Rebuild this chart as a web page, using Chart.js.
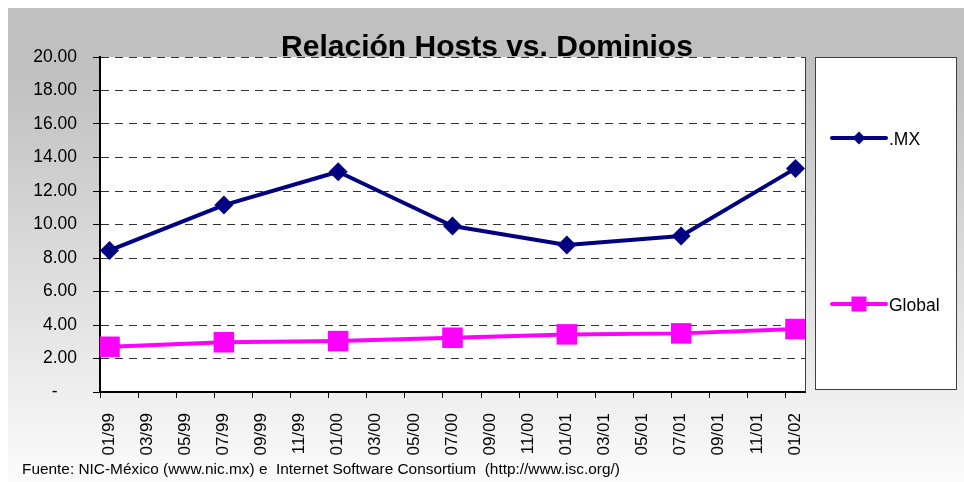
<!DOCTYPE html>
<html><head><meta charset="utf-8">
<script src="https://cdn.jsdelivr.net/npm/chart.js@4.4.0/dist/chart.umd.min.js"></script>
<style>html,body{margin:0;padding:0;background:#fff}#wrap{width:964px;height:482px}</style>
</head><body><div id="wrap"><canvas id="c" width="964" height="482"></canvas></div>
<script>
const chartTitle = 'Relación Hosts vs. Dominios';
const sourceNote = 'Fuente: NIC-México (www.nic.mx) e  Internet Software Consortium  (http://www.isc.org/)';
const dates = ['01/99', '07/99', '01/00', '07/00', '01/01', '07/01', '01/02'];
const mxValues = [8.45, 11.16, 13.15, 9.91, 8.78, 9.31, 13.35];
const globalValues = [2.70, 2.97, 3.04, 3.24, 3.44, 3.50, 3.76];
const tickLabels = ['01/99','03/99','05/99','07/99','09/99','11/99','01/00','03/00','05/00','07/00','09/00','11/00','01/01','03/01','05/01','07/01','09/01','11/01','01/02'];
const seriesNames = ['.MX', 'Global'];

const FONT = '"Liberation Sans", Arial, sans-serif';
function monthIndex(s) {
  const [m, y] = s.split('/').map(Number);
  const yy = y < 50 ? 100 + y : y;
  return (yy - 99) * 12 + (m - 1);
}
const firstM = monthIndex(tickLabels[0]);
const lastM = monthIndex(tickLabels[tickLabels.length - 1]);

const deco = {
  id: 'deco',
  beforeDraw(chart) {
    const { ctx, chartArea: a } = chart;
    ctx.save();
    const g = ctx.createLinearGradient(0, 8, 0, 482);
    g.addColorStop(0, '#c0c0c0');
    g.addColorStop(0.14, '#c0c0c0');
    g.addColorStop(1, '#fbfbfb');
    ctx.fillStyle = g;
    ctx.fillRect(8, 8, 956, 474);
    ctx.fillStyle = '#ffffff';
    ctx.fillRect(a.left, a.top, a.right - a.left, a.bottom - a.top);
    ctx.restore();
  },
  beforeDatasetsDraw(chart) {
    const { ctx, chartArea: a } = chart;
    ctx.save();
    ctx.strokeStyle = '#404040';
    ctx.lineWidth = 1;
    ctx.beginPath();
    ctx.moveTo(Math.round(a.right) + 0.5, a.top);
    ctx.lineTo(Math.round(a.right) + 0.5, a.bottom);
    ctx.stroke();
    ctx.restore();
  },
  afterDraw(chart) {
    const { ctx } = chart;
    ctx.save();
    // title
    ctx.fillStyle = '#000';
    ctx.font = 'bold 30px ' + FONT;
    ctx.textAlign = 'center';
    ctx.textBaseline = 'alphabetic';
    ctx.fillText(chartTitle, 487, 56);
    // source note
    ctx.font = '15.4px ' + FONT;
    ctx.textAlign = 'left';
    ctx.fillText(sourceNote, 22, 474);
    // legend box
    ctx.fillStyle = '#ffffff';
    ctx.fillRect(815, 57, 141, 332);
    ctx.strokeStyle = '#404040';
    ctx.lineWidth = 1;
    ctx.strokeRect(815.5, 57.5, 141, 332);
    const rows = [138, 304];
    chart.data.datasets.forEach((ds, i) => {
      const y = rows[i];
      ctx.strokeStyle = ds.borderColor;
      ctx.lineWidth = 4;
      ctx.lineCap = 'round';
      ctx.beginPath();
      ctx.moveTo(832, y);
      ctx.lineTo(886, y);
      ctx.stroke();
      ctx.fillStyle = ds.backgroundColor;
      ctx.beginPath();
      if (ds.pointStyle === 'rectRot') {
        const r = 6.5;
        ctx.moveTo(859, y - r); ctx.lineTo(859 + r, y); ctx.lineTo(859, y + r); ctx.lineTo(859 - r, y);
        ctx.closePath();
      } else {
        ctx.rect(859 - 7.5, y - 7.5, 15, 15);
      }
      ctx.fill();
      ctx.fillStyle = '#000';
      ctx.font = '17.5px ' + FONT;
      ctx.textAlign = 'left';
      ctx.textBaseline = 'middle';
      ctx.fillText(ds.label, 889, y + 2);
    });
    ctx.restore();
  }
};

new Chart(document.getElementById('c'), {
  type: 'line',
  data: {
    datasets: [
      {
        label: seriesNames[0],
        data: dates.map((d, i) => ({ x: monthIndex(d), y: mxValues[i] })),
        borderColor: '#000080', backgroundColor: '#000080',
        borderWidth: 4, pointStyle: 'rectRot', pointRadius: 9.5,
        pointBorderWidth: 0, pointHoverRadius: 9.5,
        tension: 0, borderJoinStyle: 'round', borderCapStyle: 'round'
      },
      {
        label: seriesNames[1],
        data: dates.map((d, i) => ({ x: monthIndex(d), y: globalValues[i] })),
        borderColor: '#ff00ff', backgroundColor: '#ff00ff',
        borderWidth: 4, pointStyle: 'rect', pointRadius: 14.5,
        pointBorderWidth: 0, pointHoverRadius: 14.5,
        tension: 0, borderJoinStyle: 'round', borderCapStyle: 'round'
      }
    ]
  },
  options: {
    responsive: false,
    animation: false,
    devicePixelRatio: 1,
    events: [],
    layout: { padding: { left: 0, top: 57, right: 159, bottom: 0 } },
    plugins: { legend: { display: false }, title: { display: false }, tooltip: { enabled: false } },
    scales: {
      x: {
        type: 'linear',
        min: firstM - 0.5,
        max: lastM + 0.5,
        afterBuildTicks: (s) => { s.ticks = tickLabels.map(l => ({ value: monthIndex(l) - 0.5 })); },
        afterFit: (s) => { s.height = 90; },
        ticks: {
          autoSkip: false, minRotation: 90, maxRotation: 90,
          callback: (v, i) => tickLabels[i],
          labelOffset: 9, padding: 15,
          color: '#000', font: { family: FONT, size: 17 }
        },
        grid: { display: true, drawOnChartArea: false, drawTicks: true, tickLength: 6, color: '#000', lineWidth: 1 },
        border: { display: true, color: '#000', width: 2 }
      },
      y: {
        min: 0, max: 20,
        afterFit: (s) => { s.width = 100; },
        ticks: {
          stepSize: 2,
          callback: (v) => v === 0 ? '-    ' : Number(v).toFixed(2),
          padding: 16,
          color: '#000', font: { family: FONT, size: 17.5 }
        },
        grid: { color: '#333333', lineWidth: 1, drawTicks: true, tickLength: 7, tickColor: '#000' },
        border: { display: true, color: '#000', width: 2, dash: [8, 6] }
      }
    }
  },
  plugins: [deco]
});
</script>
</body></html>
